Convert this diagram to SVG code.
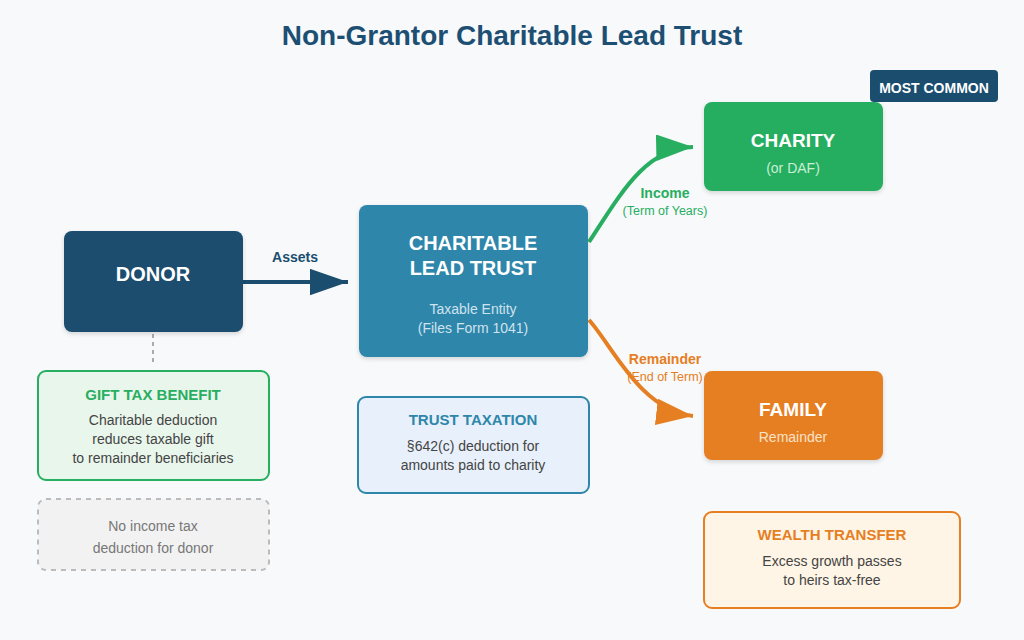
<svg xmlns="http://www.w3.org/2000/svg" width="1024" height="640" viewBox="0 0 1024 640">
<defs>
<style>
text{font-family:"Liberation Sans",Arial,sans-serif;text-anchor:middle}
.title{font-size:28px;font-weight:bold;fill:#1d4f73}
.nt{font-size:20px;font-weight:bold;fill:#fff}
.ns{font-size:14px}
.bt{font-size:15px;font-weight:bold}
.bb{font-size:14px;fill:#444}
.lb{font-size:14px;font-weight:bold}
.ls{font-size:12.5px}
</style>
<filter id="sh" x="-10%" y="-10%" width="120%" height="130%">
<feDropShadow dx="0" dy="2" stdDeviation="2" flood-color="#000" flood-opacity="0.15"/>
</filter>
<marker id="ab" markerWidth="10" markerHeight="7" refX="9.5" refY="3.3" orient="auto" markerUnits="strokeWidth"><path d="M0,0 L9.5,3.3 L0,6.6 Z" fill="#1a4d6e"/></marker>
<marker id="ag" markerWidth="10" markerHeight="7" refX="9.2" refY="3.3" orient="auto" markerUnits="strokeWidth"><path d="M0,0 L9.2,3.3 L0,6.6 Z" fill="#27ae60"/></marker>
<marker id="ao" markerWidth="10" markerHeight="7" refX="9.2" refY="3.3" orient="auto" markerUnits="strokeWidth"><path d="M0,0 L9.2,3.3 L0,6.6 Z" fill="#e67e22"/></marker>
</defs>
<rect width="1024" height="640" fill="#f7f9fb"/>
<text class="title" x="512" y="45">Non-Grantor Charitable Lead Trust</text>

<g id="connectors" fill="none">
<path d="M243,282 L348,282" stroke="#1a4d6e" stroke-width="4" marker-end="url(#ab)"/>
<path d="M589,242 C620,195 645,148 693,147" stroke="#27ae60" stroke-width="4" marker-end="url(#ag)"/>
<path d="M589,320 C612,345 640,410 693,416" stroke="#e67e22" stroke-width="4" marker-end="url(#ao)"/>
<path d="M153,334 L153,366" stroke="#aaaaaa" stroke-width="2" stroke-dasharray="4,4"/>
<text class="lb" x="295" y="262" fill="#1a4d6e" stroke="none">Assets</text>
<text class="lb" x="665" y="198" fill="#27ae60" stroke="none">Income</text>
<text class="ls" x="665" y="215" fill="#27ae60" stroke="none">(Term of Years)</text>
<text class="lb" x="665" y="364" fill="#e67e22" stroke="none">Remainder</text>
<text class="ls" x="665" y="381" fill="#e67e22" stroke="none">(End of Term)</text>
</g>

<g id="donor">
<rect x="64" y="231" width="179" height="101" rx="8" fill="#1a4d6e" filter="url(#sh)"/>
<text class="nt" x="153" y="281">DONOR</text>
</g>

<g id="trust">
<rect x="359" y="205" width="229" height="152" rx="8" fill="#2e86ab" filter="url(#sh)"/>
<text class="nt" x="473" y="250">CHARITABLE</text>
<text class="nt" x="473" y="275">LEAD TRUST</text>
<text class="ns" x="473" y="314" fill="#cfe3ee">Taxable Entity</text>
<text class="ns" x="473" y="333" fill="#cfe3ee">(Files Form 1041)</text>
</g>

<g id="charity">
<rect x="704" y="102" width="179" height="89" rx="8" fill="#27ae60" filter="url(#sh)"/>
<text class="nt" x="793" y="147" style="font-size:19px">CHARITY</text>
<text class="ns" x="793" y="173" fill="#c8efd6">(or DAF)</text>
</g>

<g id="most-common">
<rect x="870" y="70" width="128" height="32" rx="4" fill="#1a4d6e"/>
<text x="934" y="93" style="font-size:14px;font-weight:bold" fill="#fff">MOST COMMON</text>
</g>

<g id="family">
<rect x="704" y="371" width="179" height="89" rx="8" fill="#e67e22" filter="url(#sh)"/>
<text class="nt" x="793" y="416" style="font-size:19px">FAMILY</text>
<text class="ns" x="793" y="442" fill="#fbe2c8">Remainder</text>
</g>

<g id="gift-tax">
<rect x="38" y="371" width="231" height="109" rx="8" fill="#e9f6ec" stroke="#27ae60" stroke-width="2"/>
<text class="bt" x="153" y="400" fill="#27ae60">GIFT TAX BENEFIT</text>
<text class="bb" x="153" y="425">Charitable deduction</text>
<text class="bb" x="153" y="444">reduces taxable gift</text>
<text class="bb" x="153" y="463">to remainder beneficiaries</text>
</g>

<g id="no-income">
<rect x="38" y="499" width="231" height="71" rx="8" fill="#f2f2f2" stroke="#bbbbbb" stroke-width="2" stroke-dasharray="5,5"/>
<text class="ns" x="153" y="531" fill="#777">No income tax</text>
<text class="ns" x="153" y="553" fill="#777">deduction for donor</text>
</g>

<g id="trust-taxation">
<rect x="358" y="397" width="231" height="96" rx="8" fill="#e8f1fb" stroke="#2e86ab" stroke-width="2"/>
<text class="bt" x="473" y="425" fill="#2e86ab">TRUST TAXATION</text>
<text class="bb" x="473" y="451">§642(c) deduction for</text>
<text class="bb" x="473" y="470">amounts paid to charity</text>
</g>

<g id="wealth-transfer">
<rect x="704" y="512" width="256" height="96" rx="8" fill="#fef5e6" stroke="#e67e22" stroke-width="2"/>
<text class="bt" x="832" y="540" fill="#e67e22">WEALTH TRANSFER</text>
<text class="bb" x="832" y="566">Excess growth passes</text>
<text class="bb" x="832" y="585">to heirs tax-free</text>
</g>
</svg>
